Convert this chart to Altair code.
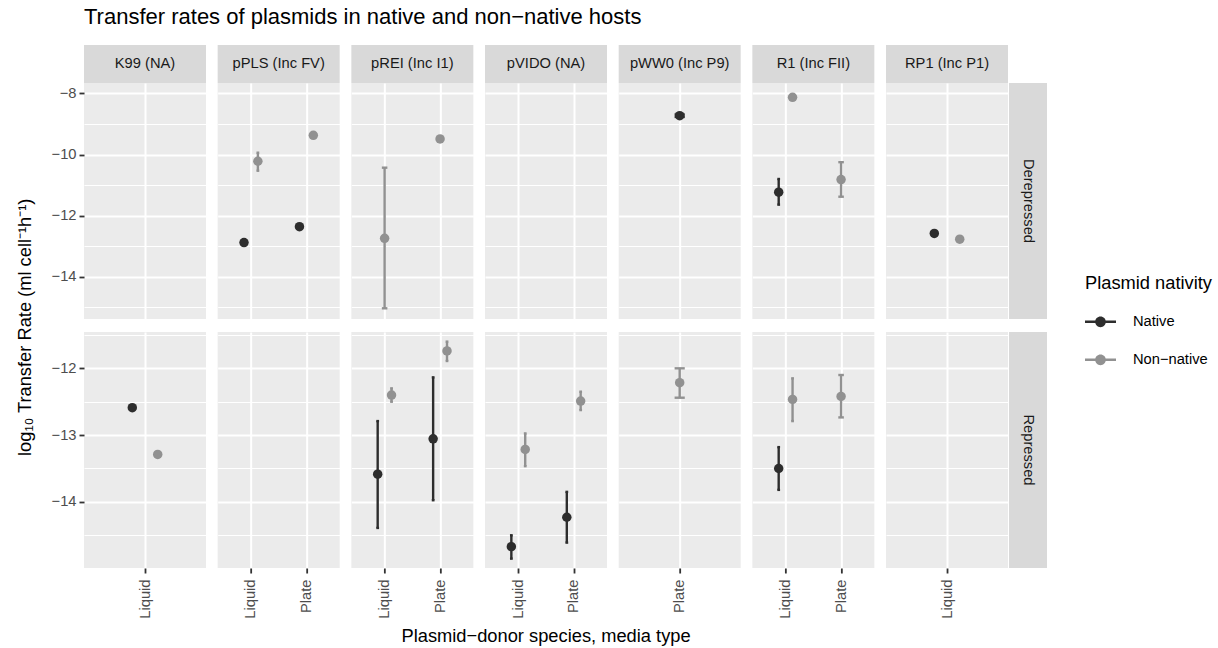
import json
import altair as alt
import pandas as pd

# ---- categories -------------------------------------------------------------
plasmids = ["K99 (NA)", "pPLS (Inc FV)", "pREI (Inc I1)", "pVIDO (NA)",
            "pWW0 (Inc P9)", "R1 (Inc FII)", "RP1 (Inc P1)"]
plasmid_media = [["Liquid"], ["Liquid", "Plate"], ["Liquid", "Plate"],
                 ["Liquid", "Plate"], ["Plate"], ["Liquid", "Plate"], ["Liquid"]]
regulation_levels = ["Derepressed", "Repressed"]
nativity_levels = ["Native", "Non\u2212native"]
nativity_colors = ["#2D2D2D", "#919191"]

NAT, NON = nativity_levels

# ---- observations: log10 transfer rate with lower / upper error limits -------
obs_regulation = ["Derepressed"] * 12 + ["Repressed"] * 14
obs_plasmid = [
    "pPLS (Inc FV)", "pPLS (Inc FV)", "pPLS (Inc FV)", "pPLS (Inc FV)",
    "pREI (Inc I1)", "pREI (Inc I1)", "pWW0 (Inc P9)",
    "R1 (Inc FII)", "R1 (Inc FII)", "R1 (Inc FII)",
    "RP1 (Inc P1)", "RP1 (Inc P1)",
    "K99 (NA)", "K99 (NA)",
    "pREI (Inc I1)", "pREI (Inc I1)", "pREI (Inc I1)", "pREI (Inc I1)",
    "pVIDO (NA)", "pVIDO (NA)", "pVIDO (NA)", "pVIDO (NA)",
    "pWW0 (Inc P9)",
    "R1 (Inc FII)", "R1 (Inc FII)", "R1 (Inc FII)",
]
obs_media = [
    "Liquid", "Liquid", "Plate", "Plate",
    "Liquid", "Plate", "Plate",
    "Liquid", "Liquid", "Plate",
    "Liquid", "Liquid",
    "Liquid", "Liquid",
    "Liquid", "Liquid", "Plate", "Plate",
    "Liquid", "Liquid", "Plate", "Plate",
    "Plate",
    "Liquid", "Liquid", "Plate",
]
obs_nativity = [
    NAT, NON, NAT, NON,
    NON, NON, NAT,
    NAT, NON, NON,
    NAT, NON,
    NAT, NON,
    NAT, NON, NAT, NON,
    NAT, NON, NAT, NON,
    NON,
    NAT, NON, NON,
]
obs_rate = [
    -12.88, -10.22, -12.36, -9.37,
    -12.74, -9.49, -8.73,
    -11.23, -8.13, -10.82,
    -12.58, -12.77,
    -12.59, -13.29,
    -13.585, -12.40, -13.055, -11.74,
    -14.67, -13.215, -14.23, -12.49,
    -12.215,
    -13.50, -12.465, -12.42,
]
obs_lower = [
    None, -10.53, None, None,
    -15.03, None, -8.77,
    -11.64, None, -11.38,
    None, None,
    None, None,
    -14.39, -12.50, -13.975, -11.89,
    -14.85, -13.465, -14.61, -12.625,
    -12.44,
    -13.82, -12.79, -12.735,
]
obs_upper = [
    None, -9.94, None, None,
    -10.43, None, -8.69,
    -10.80, None, -10.25,
    None, None,
    None, None,
    -12.79, -12.30, -12.135, -11.60,
    -14.50, -12.975, -13.85, -12.35,
    -12.00,
    -13.18, -12.15, -12.10,
]

# ---- scale settings per facet row ---------------------------------------------
row_domains = {"Derepressed": [-15.38, -7.66], "Repressed": [-14.99, -11.456]}
row_major_breaks = {"Derepressed": [-14, -12, -10, -8], "Repressed": [-14, -13, -12]}
row_minor_breaks = {"Derepressed": [-15, -13, -11, -9],
                    "Repressed": [-14.5, -13.5, -12.5, -11.5]}

X_TITLE = "Plasmid\u2212donor species, media type"
Y_TITLE = "log\u2081\u2080 Transfer Rate (ml cell\u207b\u00b9h\u207b\u00b9)"
TITLE = "Transfer rates of plasmids in native and non\u2212native hosts"

FONT = "Liberation Sans"
PANEL_W, PANEL_H = 122, 236
STRIP = 38
HSPACE, VSPACE = 11.67, 13
DODGE, CAP = 0.5, 0.1

df = pd.DataFrame({
    "regulation": obs_regulation, "plasmid": obs_plasmid, "media": obs_media,
    "nativity": obs_nativity, "rate": obs_rate,
    "lower": obs_lower, "upper": obs_upper,
})
# discrete slot of each media type inside its plasmid panel
df["slot"] = [plasmid_media[plasmids.index(p)].index(m) + 1
              for p, m in zip(df["plasmid"], df["media"])]
# dodge groups that share a slot, as position_dodge does
df["nat_i"] = df["nativity"].map(nativity_levels.index)
keys = ["regulation", "plasmid", "media"]
df["n"] = df.groupby(keys)["nativity"].transform("count")
df["k"] = df.groupby(keys)["nat_i"].rank(method="first")
df["xpos"] = df["slot"] + DODGE * ((df["k"] - 0.5) / df["n"] - 0.5)
df["cap_l"] = df["xpos"] - CAP / df["n"] / 2
df["cap_r"] = df["xpos"] + CAP / df["n"] / 2
df = df.drop(columns=["nat_i"])

color = alt.Color(
    "nativity:N",
    scale=alt.Scale(domain=nativity_levels, range=nativity_colors),
    legend=alt.Legend(
        title="Plasmid nativity", orient="none", legendX=1001, legendY=230,
        symbolType=("M-1,-0.077L1,-0.077L1,0.077L-1,0.077Z"
                    "M-0.345,0A0.345,0.345,0,1,1,0.345,0A0.345,0.345,0,1,1,-0.345,0Z"),
        symbolSize=961, symbolStrokeWidth=0, symbolOpacity=1,
        labelFont=FONT, labelFontSize=14.7, labelColor="#000000", labelOffset=17,
        titleFont=FONT, titleFontSize=18.3, titleFontWeight="normal",
        titleColor="#000000", titlePadding=13, rowPadding=15,
    ),
)


def panel(reg, p_i):
    media = plasmid_media[p_i]
    n = len(media)
    first_col = p_i == 0
    bottom = reg == regulation_levels[-1]
    lo, hi = row_domains[reg]

    x_axis = alt.Axis(
        values=list(range(1, n + 1)), title=None, grid=True, gridColor="white",
        gridWidth=2, domain=False, labels=bottom, ticks=bottom,
        labelExpr=f"{json.dumps(media)}[datum.value - 1]",
        labelAngle=-90 if bottom else 0, labelAlign="right", labelBaseline="middle",
        labelFont=FONT, labelFontSize=14.7, labelColor="#4D4D4D", labelPadding=6,
        tickColor="#333333", tickSize=5, tickWidth=1.8,
    )
    # major breaks: labelled (first column only) with thick grid lines
    y_major = alt.Axis(
        values=row_major_breaks[reg], orient="left", title=None, grid=True,
        gridColor="white", gridWidth=2, domain=False,
        labels=first_col, ticks=first_col, format="d",
        labelFont=FONT, labelFontSize=14.7, labelColor="#4D4D4D", labelPadding=3,
        tickColor="#333333", tickSize=5, tickWidth=1.8,
    )
    # minor breaks: thin grid lines only
    y_minor = alt.Axis(
        values=row_minor_breaks[reg], orient="left", title=None, grid=True,
        gridColor="white", gridWidth=1, domain=False, labels=False, ticks=False,
    )
    xs = alt.Scale(domain=[0.4, n + 0.6], nice=False, zero=False)
    ys = alt.Scale(domain=[lo, hi], nice=False, zero=False)

    base = alt.Chart(df).transform_filter(
        f"datum.regulation === '{reg}' && datum.plasmid === '{plasmids[p_i]}'"
    )
    with_err = base.transform_filter("isValid(datum.lower)")
    bars = with_err.mark_rule(strokeWidth=2.4).encode(
        x=alt.X("xpos:Q", scale=xs, axis=x_axis),
        y=alt.Y("lower:Q", scale=ys, axis=y_minor),
        y2="upper:Q", color=color,
    )
    cap_lo = with_err.mark_rule(strokeWidth=2.4).encode(
        x="cap_l:Q", x2="cap_r:Q", y=alt.Y("lower:Q", axis=y_major),
        color=color)
    cap_hi = with_err.mark_rule(strokeWidth=2.4).encode(
        x="cap_l:Q", x2="cap_r:Q", y=alt.Y("upper:Q", axis=None), color=color)
    pts = base.mark_point(filled=True, size=90, opacity=1).encode(
        x="xpos:Q", y=alt.Y("rate:Q", axis=None), color=color)
    return alt.layer(bars, cap_lo, cap_hi, pts).resolve_axis(
        y="independent"
    ).properties(
        width=PANEL_W, height=PANEL_H,
        view=alt.ViewBackground(fill="#EBEBEB", stroke=None),
    )


def strip(label, w, h, angle=0):
    return alt.Chart(pd.DataFrame({"label": [label]})).mark_text(
        font=FONT, fontSize=14.7, color="#1A1A1A", angle=angle,
        align="center", baseline="middle",
    ).encode(
        text="label:N", x=alt.value(w / 2), y=alt.value(h / 2),
    ).properties(width=w, height=h,
                 view=alt.ViewBackground(fill="#D9D9D9", stroke=None))


def indep(c):
    return c.resolve_scale(x="independent", y="independent")


strip_row = indep(alt.hconcat(*[strip(p, PANEL_W, STRIP) for p in plasmids],
                              spacing=HSPACE))

rows = []
for reg in regulation_levels:
    panels = [panel(reg, i) for i in range(len(plasmids))]
    kwargs = {}
    if reg == regulation_levels[-1]:
        kwargs["title"] = alt.TitleParams(
            X_TITLE, orient="bottom", anchor="middle", dx=16.5,
            font=FONT, fontSize=18.3, fontWeight="normal",
            color="#000000", offset=10)
    inner = indep(alt.hconcat(*panels, spacing=HSPACE, **kwargs))
    rows.append(indep(alt.hconcat(inner, strip(reg, STRIP, PANEL_H, angle=90),
                                  spacing=0)))

rows_block = indep(alt.vconcat(
    *rows, spacing=VSPACE,
    title=alt.TitleParams(
        Y_TITLE, orient="left", anchor="middle", dx=37, font=FONT,
        fontSize=18.3, fontWeight="normal", color="#000000", offset=16),
))

chart = indep(alt.vconcat(strip_row, rows_block, spacing=0)).properties(
    title=alt.TitleParams(
        TITLE, anchor="start", frame="group", font=FONT, fontSize=22,
        fontWeight="normal", color="#000000", offset=16),
    padding={"left": 15, "top": 6, "right": 5, "bottom": 5},
    background="white",
).configure_view(stroke=None)

chart.save("out.html", embed_options={"renderer": "svg", "actions": False})
